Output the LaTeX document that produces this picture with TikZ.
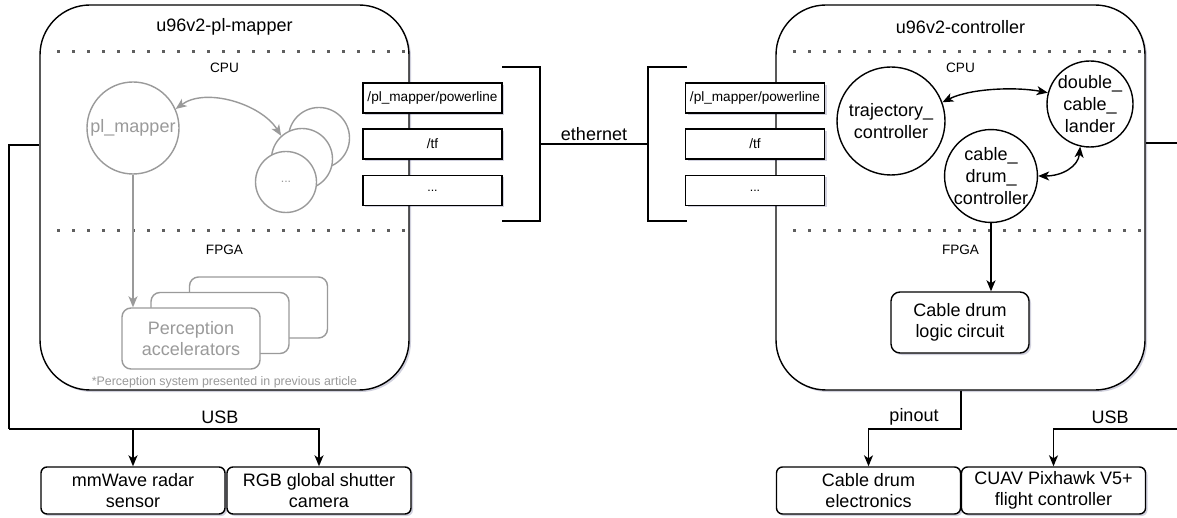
\documentclass[tikz,border=0pt]{standalone}
\usepackage{fontspec}
\setmainfont{Liberation Sans}
\usetikzlibrary{arrows.meta,shadows,calc}
\definecolor{gr}{HTML}{9A9A9A}
\definecolor{dotc}{HTML}{5E5E5E}
\newcommand{\ftxtL}{\fontsize{18}{21.6}\selectfont}
\newcommand{\ftxtM}{\fontsize{13.6}{16}\selectfont}
\newcommand{\ftxtS}{\fontsize{12.4}{14}\selectfont}
\tikzset{
  shd/.style={drop shadow={shadow xshift=2pt,shadow yshift=-2pt,opacity=0.18,fill=blue!30!black}},
  bigbox/.style={draw,line width=1.4pt,rounded corners=50pt,fill=white,minimum width=369pt,minimum height=385pt,inner sep=0pt,shd},
  topic/.style={draw,line width=1.2pt,fill=white,minimum width=139pt,minimum height=30pt,inner sep=0pt,font=\ftxtM,shd},
  dev/.style={draw,line width=1.4pt,rounded corners=6pt,fill=white,minimum width=184pt,minimum height=47pt,inner sep=0pt,align=center,font=\ftxtL,shd},
  ros/.style={circle,draw,line width=1.4pt,fill=white,minimum size=#1,inner sep=0pt,align=center,font=\ftxtL},
  gros/.style={ros=#1,draw=gr,text=gr},
  accel/.style={draw=gr,line width=1.4pt,rounded corners=9pt,fill=white,minimum width=138pt,minimum height=61pt,inner sep=0pt,align=center,font=\ftxtL,text=gr},
  logicbox/.style={draw,line width=1.4pt,rounded corners=9pt,fill=white,minimum width=138pt,minimum height=61pt,inner sep=0pt,align=center,font=\ftxtL,shd},
  wire/.style={line width=1.4pt},
  tip/.style={-{Stealth[length=11pt,width=9pt,inset=3pt]}},
  bitip/.style={{Stealth[length=11pt,width=9pt,inset=3pt]}-{Stealth[length=11pt,width=9pt,inset=3pt]}},
  dotline/.style={dotc,line width=3pt,dash pattern=on 3pt off 12pt},
  lbl/.style={font=\ftxtL,inner sep=1pt},
  sec/.style={font=\ftxtM,inner sep=1pt}
}
\begin{document}
\begin{tikzpicture}[x=1pt,y=-1pt]
\useasboundingbox (0,0) rectangle (1177,518);
\fill[white] (0,0) rectangle (1177,518);

% ---------- big boxes ----------
\node[bigbox] (lbox) at (224.5,197.5) {};
\node[bigbox] (rbox) at (960.5,197.5) {};
\node[lbl] (ltitle) at (224.5,27) {u96v2-pl-mapper};
\node[lbl] (rtitle) at (960.5,27) {u96v2-controller};

% dotted separators
\coordinate (ld1) at (57,52); \coordinate (ld1e) at (405,52);
\coordinate (ld2) at (57,231); \coordinate (ld2e) at (405,231);
\coordinate (rd1) at (793,52); \coordinate (rd1e) at (1141,52);
\coordinate (rd2) at (793,231); \coordinate (rd2e) at (1141,231);
\draw[dotline] (ld1) -- (ld1e);
\draw[dotline] (ld2) -- (ld2e);
\draw[dotline] (rd1) -- (rd1e);
\draw[dotline] (rd2) -- (rd2e);
\node[sec] (lcpu) at (224.5,68) {CPU};
\node[sec] (lfpga) at (224.5,250) {FPGA};
\node[sec] (rcpu) at (960.5,68) {CPU};
\node[sec] (rfpga) at (960.5,250) {FPGA};

% ---------- left internals (gray) ----------
\node[gros=92pt] (plm) at (133,128) {pl\_mapper};
\node[gros=61pt] (gc3) at (319,138) {};
\node[gros=61pt] (gc2) at (302,159) {};
\node[gros=61pt,font=\ftxtS] (gc1) at (286,182) {...};
\draw[gr,line width=1.4pt,bitip] (plm.24) .. controls +(30,-22) and +(-20,-32) .. (gc2.132);

\node[accel] (acc3) at (258.5,307.5) {};
\node[accel] (acc2) at (220,323) {};
\node[accel] (acc1) at (191,338.5) {Perception\\accelerators};
\draw[gr,line width=1.4pt,tip] (plm.south) -- (plm.south |- acc1.north);
\node[font=\ftxtS,text=gr,inner sep=0pt] (note) at (224.5,382) {*Perception system presented in previous article};

% ---------- topic boxes ----------
\node[topic] (lt1) at (432.5,98) {/pl\_mapper/powerline};
\node[topic] (lt2) at (432.5,144) {/tf};
\node[topic,font=\ftxtS] (lt3) at (432.5,190.5) {...};
\node[topic] (rt1) at (755,98) {/pl\_mapper/powerline};
\node[topic] (rt2) at (755,144) {/tf};
\node[topic,font=\ftxtS] (rt3) at (755,190.5) {...};

% brackets and ethernet
\coordinate (lbT) at (502,67); \coordinate (lbB) at (502,221);
\coordinate (lbM) at (540,144);
\coordinate (rbT) at (687,67); \coordinate (rbB) at (687,221);
\coordinate (rbM) at (648,144);
\draw[wire] (lbT) -| (lbM) |- (lbB);
\draw[wire] (rbT) -| (rbM) |- (rbB);
\draw[wire] (lbM) -- node[lbl,above=2pt] (eth) {ethernet} (rbM);

% ---------- right internals ----------
\node[ros=108pt] (traj) at (891,121) {trajectory\_\\controller};
\node[ros=86pt] (dbl) at (1090,104) {double\_\\cable\_\\lander};
\node[ros=88pt] (cdc) at (991,176) {cable\_\\drum\_\\controller};
\draw[wire,bitip] (traj.20) .. controls +(28,-14) and +(-32,-6) .. (dbl.165);
\draw[wire,bitip] (cdc.0) .. controls +(24,0) and +(-2,20) .. (dbl.-103);
\node[logicbox] (logic) at (960,322.5) {Cable drum\\logic circuit};
\draw[wire,tip] (cdc.south) -- (cdc.south |- logic.north);

% ---------- devices ----------
\node[dev] (mmw) at (133,490.5) {mmWave radar\\sensor};
\node[dev] (rgb) at (319,490.5) {RGB global shutter\\camera};
\node[dev] (elec) at (868.5,490.5) {Cable drum\\electronics};
\node[dev] (cuav) at (1053.5,490.5) {CUAV Pixhawk V5+\\flight controller};

% left USB wiring
\coordinate (lcorner) at (9,145);
\coordinate (lusb) at (9,429);
\draw[wire] (lcorner -| lbox.west) -- (lcorner) -- (lusb);
\draw[wire,tip] (lusb) -| (rgb.north);
\draw[wire,tip] (lusb -| mmw.north) -- (mmw.north);
\node[lbl] (usbl) at (220,417) {USB};

% right wiring
\coordinate (rcorner) at (1177,143);
\coordinate (rusb) at (1177,429);
\draw[wire] (rcorner -| rbox.east) -- (rcorner);
\draw[wire,tip] (rusb) -| (cuav.north);
\node[lbl] (usbr) at (1110,417) {USB};
\coordinate (pinc) at (961,429);
\draw[wire,tip] (rbox.south -| pinc) -- (pinc) -| (elec.north);
\node[lbl] (pin) at (914,417) {pinout};
\end{tikzpicture}
\end{document}
